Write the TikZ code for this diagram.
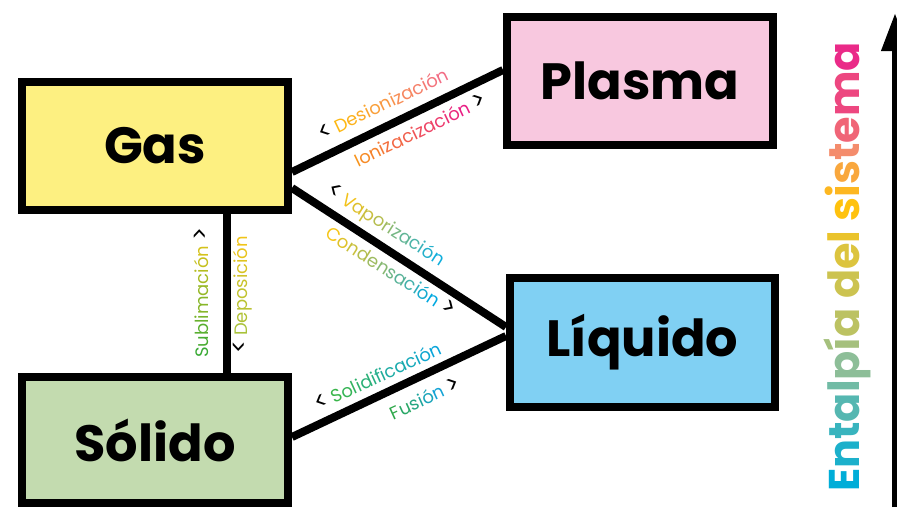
\documentclass[tikz,border=0pt]{standalone}
\usepackage{fontspec}
\setmainfont{Poppins}
\usetikzlibrary{arrows.meta}
\pgfdeclarelayer{bg}
\pgfsetlayers{bg,main}
\definecolor{gasfill}{HTML}{FDF081}
\definecolor{plasmafill}{HTML}{F8C8DF}
\definecolor{liqfill}{HTML}{80D0F3}
\definecolor{solfill}{HTML}{C3DBAF}
\definecolor{desA}{HTML}{FDB813}
\definecolor{desB}{HTML}{F26D85}
\definecolor{ionA}{HTML}{F7941D}
\definecolor{ionB}{HTML}{E91E84}
\definecolor{vapA}{HTML}{F2C21B}
\definecolor{vapB}{HTML}{10AEDC}
\definecolor{conA}{HTML}{F5C518}
\definecolor{conB}{HTML}{00A8E0}
\definecolor{solA}{HTML}{39B54A}
\definecolor{solB}{HTML}{0AA5DA}
\definecolor{fusA}{HTML}{2EA84A}
\definecolor{fusB}{HTML}{14A3D5}
\definecolor{subA}{HTML}{3AAA35}
\definecolor{subB}{HTML}{D4C21C}
\definecolor{depA}{HTML}{A9C23A}
\definecolor{depB}{HTML}{F0C419}
\definecolor{e0}{HTML}{00ADD8}
\definecolor{e1}{HTML}{8DBE98}
\definecolor{e2}{HTML}{DCC43E}
\definecolor{e3}{HTML}{FFC20E}
\definecolor{e4}{HTML}{F48C6C}
\definecolor{e5}{HTML}{EA2A88}
\ExplSyntaxOn
\int_new:N \l_grad_n_int
\int_new:N \l_grad_i_int
\int_new:N \l_grad_p_int
\NewDocumentCommand\grad{mmm}
 {
  \int_set:Nn \l_grad_n_int { \tl_count:n {#3} - 1 }
  \int_compare:nNnT \l_grad_n_int < 1 { \int_set:Nn \l_grad_n_int {1} }
  \int_zero:N \l_grad_i_int
  \tl_map_inline:nn {#3}
   {
    \int_set:Nn \l_grad_p_int { \int_div_round:nn { 100 * \l_grad_i_int } { \l_grad_n_int } }
    \exp_args:Nx \color { #2!\int_use:N \l_grad_p_int!#1 }
    ##1
    \int_incr:N \l_grad_i_int
   }
 }
\ExplSyntaxOff
\newcommand\chl{{\color{black}\fontsize{24}{18}\selectfont<}}
\newcommand\chr{{\color{black}\fontsize{24}{18}\selectfont>}}
\tikzset{
  state/.style={draw=black, line width=8pt, font=\bfseries\fontsize{51}{51}\selectfont,
    minimum width=266pt, minimum height=128pt, inner sep=0pt},
  conn/.style={draw=black, line width=8pt},
  lbl/.style={font=\fontsize{18}{18}\selectfont, inner sep=0pt},
}
\begin{document}
\begin{tikzpicture}[x=1pt,y=-1pt]
\useasboundingbox (0,0) rectangle (897,507);
\node[state, fill=gasfill] (gas) at (155,146) {Gas};
\node[state, fill=plasmafill] (plasma) at (640,81) {Plasma};
\node[state, fill=liqfill, minimum width=265pt, minimum height=129pt] (liq) at (642.5,342.5) {Líquido};
\node[state, fill=solfill, minimum height=126pt] (sol) at (155,440) {Sólido};
\begin{pgfonlayer}{bg}
\draw[conn] ([yshift=-26pt]gas.east) -- ([yshift=11pt]plasma.west);
\draw[conn] ([yshift=-42pt]gas.east) -- ([yshift=15.5pt]liq.west);
\draw[conn] ([yshift=3pt]sol.east) -- ([yshift=6.5pt]liq.west);
\draw[conn] ([xshift=72pt]gas.south) -- ([xshift=72pt]sol.north);
\end{pgfonlayer}
\node[lbl, rotate=25.6] (l1) at (383,104) {\chl\ \grad{desA}{desB}{Desionización}};
\node[lbl, rotate=25.6] (l2) at (420,130) {\grad{ionA}{ionB}{Ionizacización}\ \chr};
\node[lbl, rotate=-32.5] (l3) at (385,226) {\chl\ \grad{vapA}{vapB}{Vaporización}};
\node[lbl, rotate=-32.5] (l4) at (391,271) {\grad{conA}{conB}{Condensación}\ \chr};
\node[lbl, rotate=24.6] (l5) at (378,376) {\chl\ \grad{solA}{solB}{Solidificación}};
\node[lbl, rotate=24.6] (l6) at (425,398) {\grad{fusA}{fusB}{Fusión}\ \chr};
\node[lbl, rotate=90] (l7) at (201,293) {\grad{subA}{subB}{Sublimación}\ \chr};
\node[lbl, rotate=90] (l8) at (243,295) {\chl\ \grad{depA}{depB}{Deposición}};
\node[font=\bfseries\fontsize{43}{43}\selectfont, inner sep=0pt, rotate=90] (ent) at (847,267)
 {\textcolor{e0}{E}\textcolor{e0!80!e1}{n}\textcolor{e0!60!e1}{t}\textcolor{e0!40!e1}{a}\textcolor{e0!20!e1}{l}\textcolor{e1}{p}\textcolor{e1!70!e2}{í}\textcolor{e1!40!e2}{a} \textcolor{e1!20!e2}{d}\textcolor{e2}{e}\textcolor{e2!60!e3}{l} \textcolor{e3}{s}\textcolor{e3!80!e4}{i}\textcolor{e3!50!e4}{s}\textcolor{e4}{t}\textcolor{e4!60!e5}{e}\textcolor{e4!30!e5}{m}\textcolor{e5}{a}};
\coordinate (abot) at (895,507);
\coordinate (atop) at (895,13);
\draw[line width=7pt, -{Triangle[width=26pt,length=38pt]}] (abot) -- (atop);
\end{tikzpicture}
\end{document}
